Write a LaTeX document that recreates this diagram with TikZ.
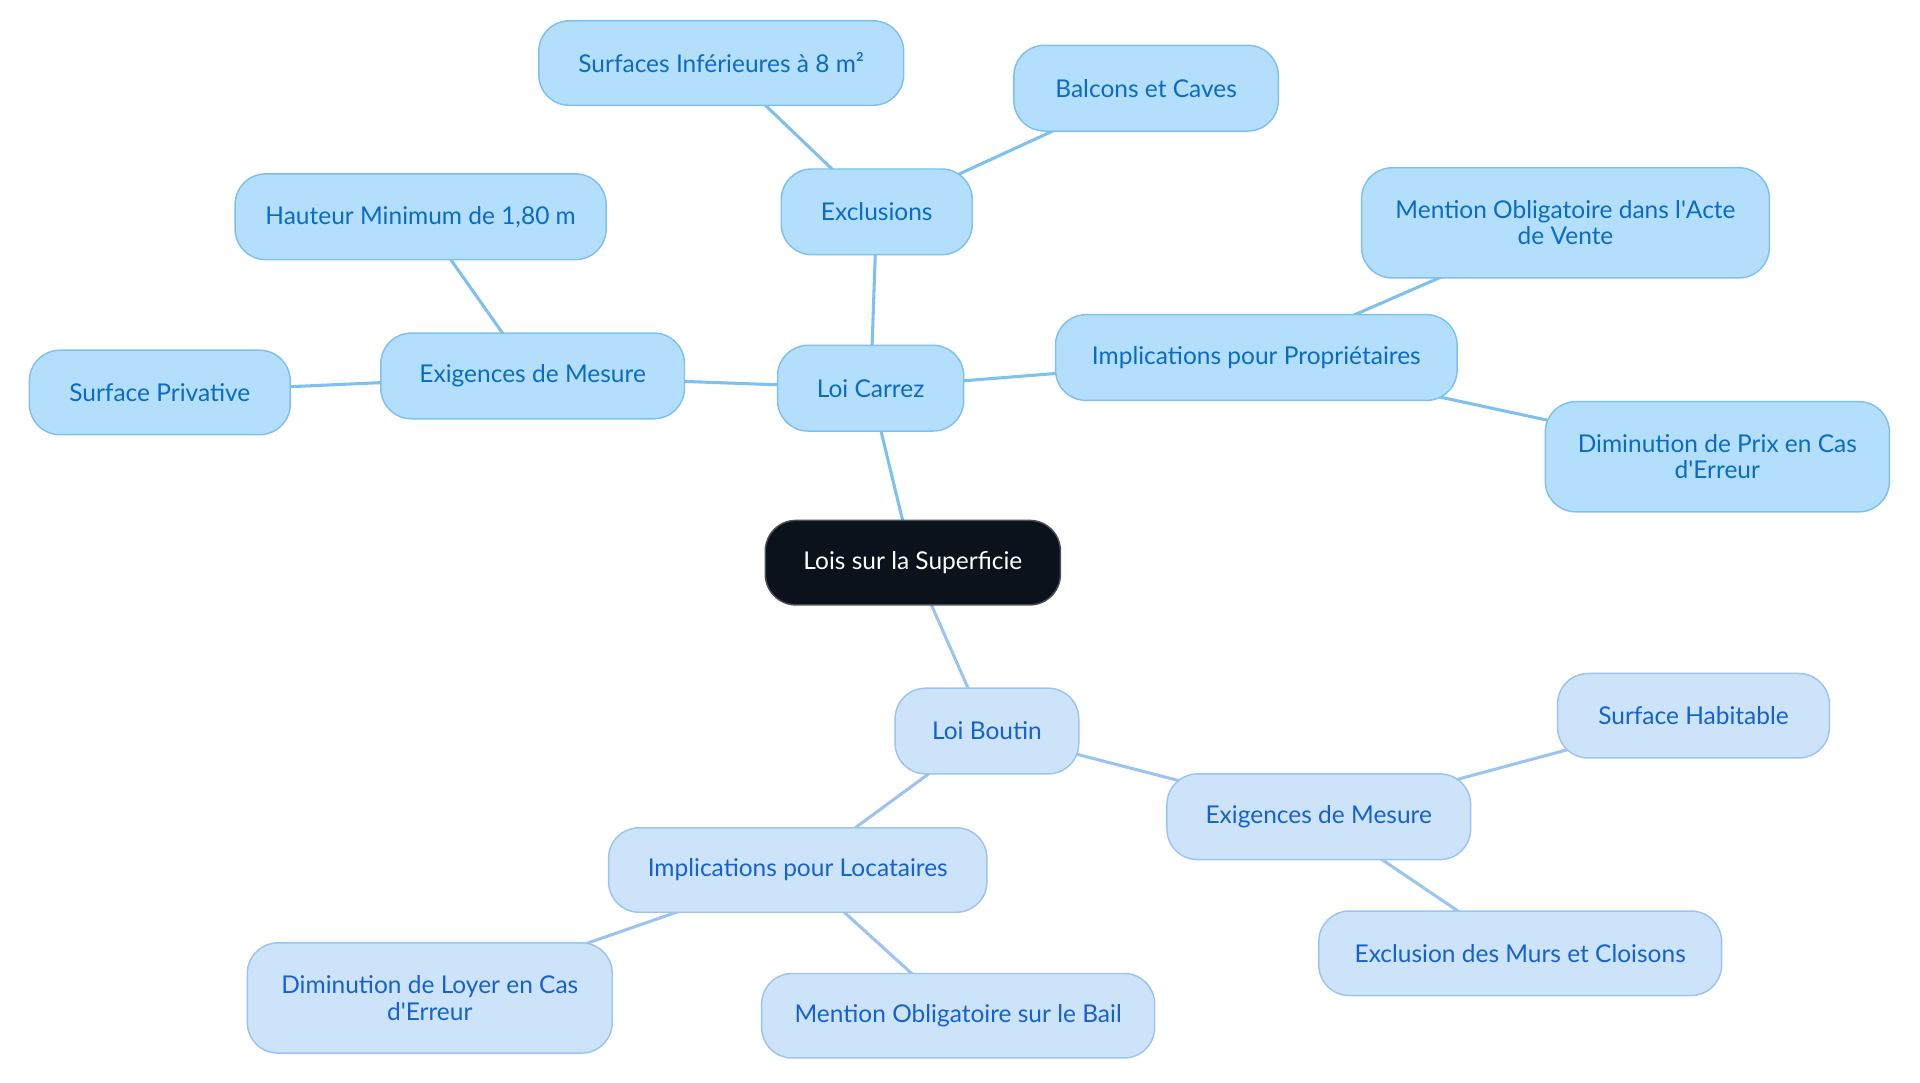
\documentclass[tikz,border=0pt]{standalone}
\usepackage{fontspec}
\setmainfont{Lato}
\usetikzlibrary{backgrounds}
\definecolor{cfill}{HTML}{B3DFFD}
\definecolor{cdraw}{HTML}{7EC1F0}
\definecolor{ctext}{HTML}{0B6BC3}
\definecolor{bfill}{HTML}{CDE3FA}
\definecolor{bdraw}{HTML}{9BC5F0}
\definecolor{btext}{HTML}{1462CF}
\definecolor{rootfill}{HTML}{0C121C}
\definecolor{rootdraw}{HTML}{4A4F57}
\begin{document}
\begin{tikzpicture}[x=1pt,y=-1pt,
  base/.style={rounded corners=25pt, inner sep=0pt, align=center, line width=1.2pt,
    font=\fontsize{20}{21.5}\selectfont},
  carrez/.style={base, fill=cfill, draw=cdraw, text=ctext},
  boutin/.style={base, fill=bfill, draw=bdraw, text=btext},
  rootbox/.style={base, fill=rootfill, draw=rootdraw, text=white},
  cedge/.style={draw=cdraw, line width=2.5pt},
  bedge/.style={draw=bdraw, line width=2.5pt},
  sz/.style n args={2}{minimum width=#1pt, minimum height=#2pt}]
\useasboundingbox (0,0) rectangle (1568,884.4);

\node[rootbox, sz={241}{69}] (root) at (745.5,459.5) {Lois sur la Superficie};

\node[carrez, sz={152}{70}] (carrez) at (711,317) {Loi Carrez};
\node[carrez, sz={156}{70}] (excl) at (716,173) {Exclusions};
\node[carrez, sz={298}{69}] (surfinf) at (589,51.5) {Surfaces Inférieures à 8 m²};
\node[carrez, sz={216}{70}] (balcons) at (936,72) {Balcons et Caves};
\node[carrez, sz={248}{70}] (exigc) at (435,307) {Exigences de Mesure};
\node[carrez, sz={303}{70}] (hauteur) at (343.5,177) {Hauteur Minimum de 1,80 m};
\node[carrez, sz={213}{69}] (surfpriv) at (130.5,320.5) {Surface Privative};
\node[carrez, sz={328}{70}] (implprop) at (1026,292) {Implications pour Propriétaires};
\node[carrez, sz={333}{90}] (mentacte) at (1278.5,182) {Mention Obligatoire dans l\textquotesingle Acte\\de Vente};
\node[carrez, sz={281}{90}] (dimprix) at (1402.5,373) {Diminution de Prix en Cas\\d\textquotesingle Erreur};

\node[boutin, sz={150}{70}] (boutin) at (806,597) {Loi Boutin};
\node[boutin, sz={248}{70}] (exigb) at (1077,667) {Exigences de Mesure};
\node[boutin, sz={222}{69}] (surfhab) at (1383,584.5) {Surface Habitable};
\node[boutin, sz={329}{69}] (exclmurs) at (1241.5,778.5) {Exclusion des Murs et Cloisons};
\node[boutin, sz={309}{69}] (impllo) at (651.5,710.5) {Implications pour Locataires};
\node[boutin, sz={298}{90}] (dimloyer) at (351,815) {Diminution de Loyer en Cas\\d\textquotesingle Erreur};
\node[boutin, sz={321}{69}] (mentbail) at (782.5,829.5) {Mention Obligatoire sur le Bail};

\begin{scope}[on background layer]
\fill[white] (0,0) rectangle (1568,884.4);
\draw[cedge] (root.center) -- (carrez.center);
\draw[cedge] (carrez.center) -- (excl.center);
\draw[cedge] (excl.center) -- (surfinf.center);
\draw[cedge] (excl.center) -- (balcons.center);
\draw[cedge] (carrez.center) -- (exigc.center);
\draw[cedge] (exigc.center) -- (hauteur.center);
\draw[cedge] (exigc.center) -- (surfpriv.center);
\draw[cedge] (carrez.center) -- (implprop.center);
\draw[cedge] (implprop.center) -- (mentacte.center);
\draw[cedge] (implprop.center) -- (dimprix.center);
\draw[bedge] (root.center) -- (boutin.center);
\draw[bedge] (boutin.center) -- (exigb.center);
\draw[bedge] (exigb.center) -- (surfhab.center);
\draw[bedge] (exigb.center) -- (exclmurs.center);
\draw[bedge] (boutin.center) -- (impllo.center);
\draw[bedge] (impllo.center) -- (dimloyer.center);
\draw[bedge] (impllo.center) -- (mentbail.center);
\end{scope}
\end{tikzpicture}
\end{document}
